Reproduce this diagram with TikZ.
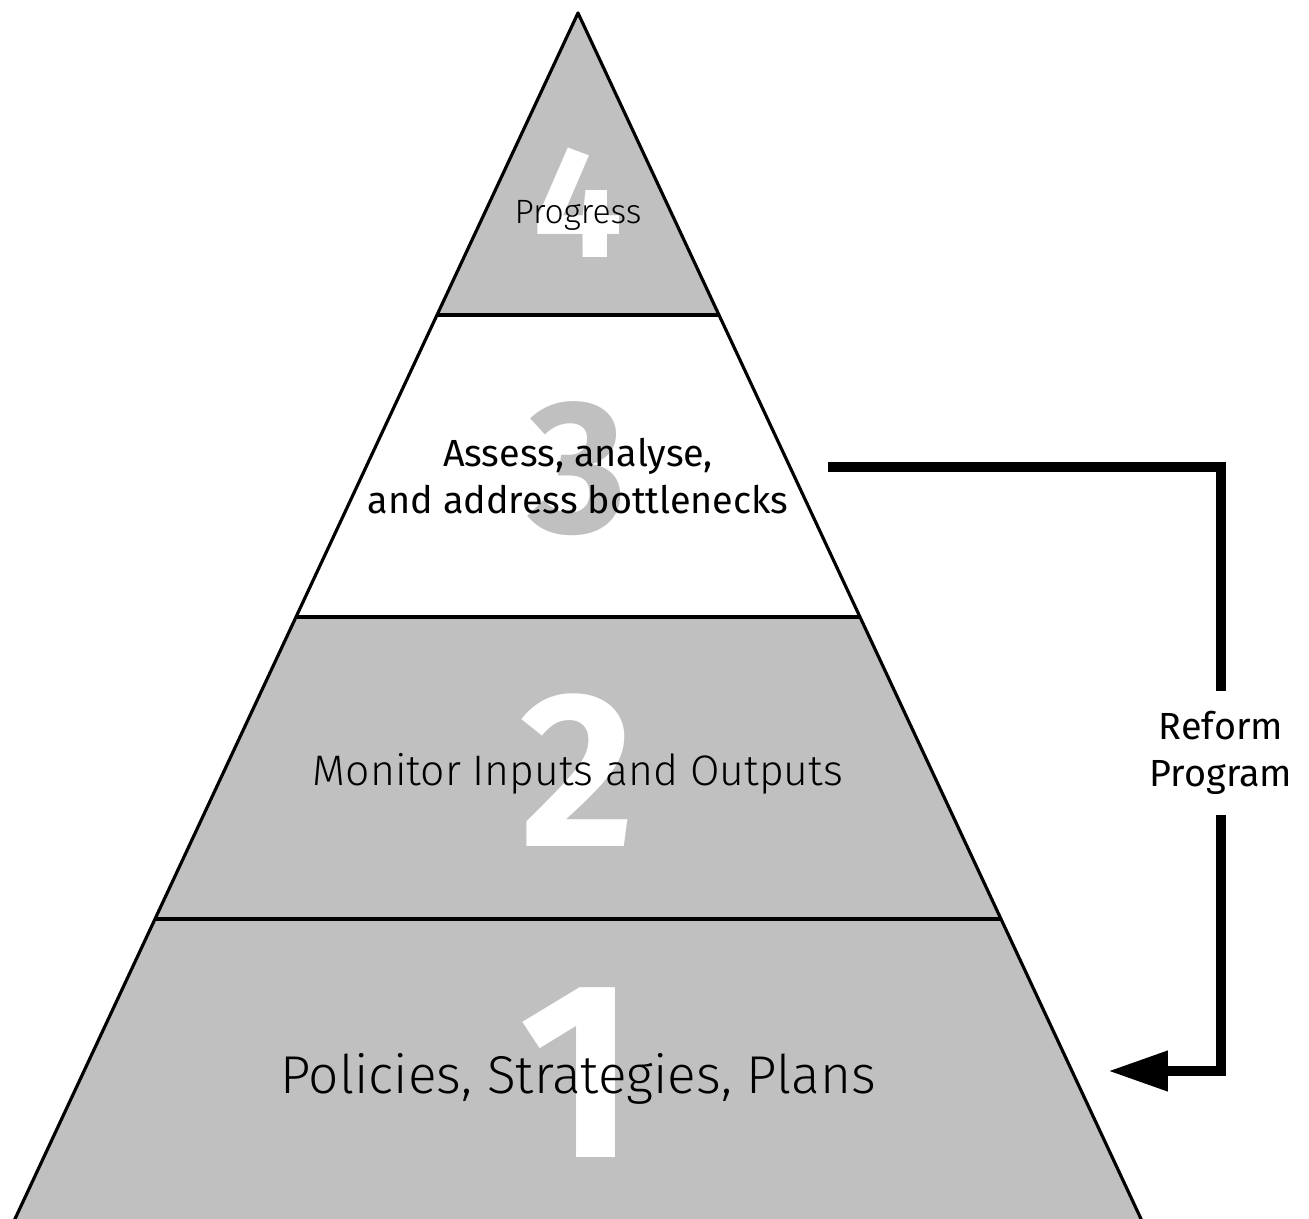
\documentclass[tikz,border=0pt]{standalone}
\usepackage{fontspec}
\setmainfont{Fira Sans}
\newfontfamily\lightfont{Fira Sans Light}
\usetikzlibrary{arrows.meta,calc}
\definecolor{levelgray}{HTML}{C0C0C0}
\tikzset{
  levelnum/.style={font={\bfseries\fontsize{#1}{#1}\selectfont}, text=white, inner sep=0pt},
  levelthin/.style={font={\lightfont\fontsize{#1}{#1}\selectfont}, inner sep=0pt, anchor=base},
  levelbox/.style={font={\fontsize{21.5}{27}\selectfont}, align=center, inner sep=0pt},
  outline/.style={line width=1.8pt, line join=round},
  feedback/.style={line width=6pt}
}
\begin{document}
\begin{tikzpicture}[x=0.02cm,y=-0.02cm]
\useasboundingbox (0,0) rectangle (1309,1218);
\coordinate (apex) at (578,13);
\coordinate (bl) at (14,1221);
\coordinate (br) at (1142,1221);
\foreach \t/\n in {0.25/a,0.5/b,0.75/c}{
  \coordinate (l\n) at ($(apex)!\t!(bl)$);
  \coordinate (r\n) at ($(apex)!\t!(br)$);
}
\fill[levelgray] (apex) -- (ra) -- (la) -- cycle;
\fill[levelgray] (lb) -- (rb) -- (br) -- (bl) -- cycle;

\node[levelnum=90] (num4) at (578,203) {4};
\node[levelnum=108, text=levelgray] (num3) at (578,469) {3};
\node[levelnum=126] (num2) at (578,770) {2};
\node[levelnum=143] (num1) at (578,1073) {1};

\node[levelthin=19.2] (progress) at (578,223) {Progress};
\node[levelbox] (assess) at (578,476) {Assess, analyse,\\and address bottlenecks};
\node[levelthin=24.3] (monitor) at (578,785) {Monitor Inputs and Outputs};
\node[levelthin=30.3] (policies) at (578,1093) {Policies, Strategies, Plans};

\draw[outline] (bl) -- (apex) -- (br);
\draw[outline] (la) -- (ra) (lb) -- (rb) (lc) -- (rc);

\node[levelbox, inner ysep=0.4cm] (reform) at (1221,753) {Reform\\Program};
\coordinate (fbstart) at (828,467);
\coordinate (fbend) at (1108,1071);
\draw[feedback] (fbstart) -| (reform.north);
\draw[feedback, -{Triangle[length=1.2cm,width=0.76cm]}] (reform.south) |- (fbend);
\end{tikzpicture}
\end{document}
